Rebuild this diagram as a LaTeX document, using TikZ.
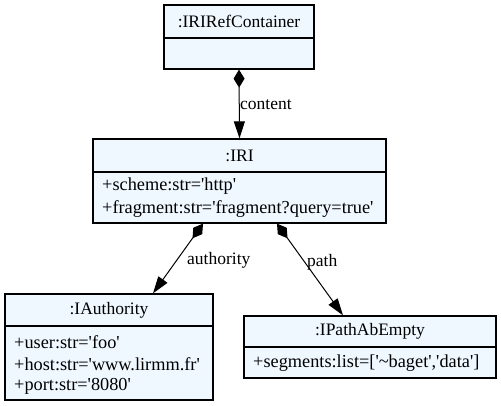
\documentclass[tikz,border=0pt]{standalone}
\usepackage{fontspec}
\setmainfont{Liberation Serif}
\usetikzlibrary{arrows.meta}
\definecolor{boxfill}{HTML}{F0F8FF}
\newcommand{\sq}{\textquotesingle}
\tikzset{
  umlbox/.style={draw=black, fill=boxfill, line width=1.3pt, inner sep=0pt},
  title/.style={inner sep=0pt},
  attr/.style={inner sep=0pt, anchor=west, font=\fontsize{18.3}{21}\selectfont},
  lbl/.style={inner sep=0pt, anchor=west},
  comp/.style={line width=1pt, {Diamond[length=18pt,width=11pt]}-{Triangle[length=17pt,width=11pt]}},
}
\begin{document}
\begin{tikzpicture}[x=1pt,y=-1pt, font=\fontsize{17.5}{21}\selectfont]
\useasboundingbox (0,0) rectangle (501,406);
% IRIRefContainer
\node[umlbox, minimum width=150pt, minimum height=64pt] (irirc) at (239,37) {};
\node[title] (irirct) at (239,21.5) {:IRIRefContainer};
\draw[line width=1.3pt] (irirc.west |- 0,38) -- (irirc.east |- 0,38);
% IRI
\node[umlbox, minimum width=293pt, minimum height=84pt] (iri) at (239.5,181) {};
\node[title] (irit) at (239.5,155.5) {:IRI};
\draw[line width=1.3pt] (iri.west |- 0,172) -- (iri.east |- 0,172);
\node[attr] (iria1) at (102,186) {+scheme:str=\sq http\sq};
\node[attr] (iria2) at (102,209) {+fragment:str=\sq fragment?query=true\sq};
% IAuthority
\node[umlbox, minimum width=208pt, minimum height=106pt] (auth) at (109,347) {};
\node[title] (autht) at (109,310) {:IAuthority};
\draw[line width=1.3pt] (auth.west |- 0,326) -- (auth.east |- 0,326);
\node[attr] (autha1) at (14,342) {+user:str=\sq foo\sq};
\node[attr] (autha2) at (14,364) {+host:str=\sq www.lirmm.fr\sq};
\node[attr] (autha3) at (14,386) {+port:str=\sq 8080\sq};
% IPathAbEmpty
\node[umlbox, minimum width=252pt, minimum height=62pt] (ipath) at (370,347) {};
\node[title] (ipatht) at (370,331) {:IPathAbEmpty};
\draw[line width=1.3pt] (ipath.west |- 0,347) -- (ipath.east |- 0,347);
\node[attr] (ipatha1) at (253,363) {+segments:list=[\sq{\char"007E}baget\sq,\sq data\sq]};
% edges
\draw[comp] (irirc.south) -- (iri.north);
\draw[comp] ([xshift=-36.5pt]iri.south) -- ([xshift=44pt]auth.north);
\draw[comp] ([xshift=37.5pt]iri.south) -- ([xshift=-27pt]ipath.north);
% labels
\node[lbl] (lcontent) at (240,105) {content};
\node[lbl] (lauth) at (187,260) {authority};
\node[lbl] (lpath) at (307,262) {path};
\end{tikzpicture}
\end{document}
